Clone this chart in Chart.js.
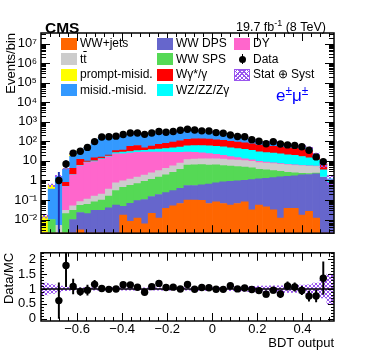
<!DOCTYPE html>
<html>
<head>
<meta charset="utf-8">
<script src="https://cdn.jsdelivr.net/npm/chart.js@4.4.1/dist/chart.umd.min.js"></script>
<style>
  html, body { margin: 0; padding: 0; background: #fff; }
  #wrap { position: relative; width: 374px; height: 359px; overflow: hidden;
          font-family: "Liberation Sans", Arial, sans-serif; color: #000; }
  #main { position: absolute; left: 0; top: 0; }
  #ratio { position: absolute; left: 0; top: 240px; }
  .t { position: absolute; white-space: nowrap; line-height: 1; }
  .sup { font-size: 0.7em; vertical-align: 0.5em; line-height: 0; }
  .leg { position: absolute; font-size: 12px; line-height: 12px; white-space: nowrap; }
  .sw { position: absolute; width: 16px; height: 12px; }
</style>
</head>
<body>
<div id="wrap">
  <canvas id="main" width="374" height="245"></canvas>
  <canvas id="ratio" width="374" height="119"></canvas>
  <div class="t" style="left:276px; top:87px; font-size:17px; color:#0000ff;">e<span class="sup">±</span>μ<span class="sup">±</span></div>
  <div id="legend"></div>
</div>
<script>
// BDT output binning (41 bins)
const xMin = -0.76, xMax = 0.54, nBins = 41;
const binWidth = (xMax - xMin) / nBins;
const binCenters = Array.from({ length: nBins }, (_, i) => xMin + (i + 0.5) * binWidth);

// tick labels
const xTickVals = [-0.6, -0.4, -0.2, 0, 0.2, 0.4];
const yTickVals = [1e-2, 1e-1, 1, 10, 1e2, 1e3, 1e4, 1e5, 1e6, 1e7];
const yTickText = ['10\u207B\u00B2', '10\u207B\u00B9', '1', '10', '10\u00B2', '10\u00B3', '10\u2074', '10\u2075', '10\u2076', '10\u2077'];
const ratioTickVals = [0, 0.5, 1, 1.5, 2];

// MC stack, bottom to top (events per bin)
const wwJets = [0,0,0,0,0,0.003,0,0,0,0, 0,0.017,0.008,0.012,0.006,0.021,0.012,0.037,0.05,0.066, 0.1,0.1,0.096,0.066,0.08,0.066,0.055,0.066,0.08,0.031, 0.055,0.045,0.031,0.012,0.037,0.037,0.017,0.026,0.012,0, 0];
const wwDps = [0,0,0,0,0.01,0.02,0.02,0.03,0.03,0.04, 0.055,0.03,0.06,0.08,0.1,0.13,0.18,0.2,0.25,0.33, 0.45,0.45,0.5,0.58,0.67,0.78,0.85,0.88,0.92,1.07, 1.15,1.25,1.37,1.5,1.6,1.7,1.9,2.0,2.2,1.45, 0.8];
const wwSps = [0,0.01,0,0.02,0.02,0.03,0.04,0.05,0.07,0.12, 0.25,0.4,0.5,0.6,0.8,1.0,1.3,1.7,2.3,3.3, 5.6,5.8,5.8,5.5,5.5,5.0,4.5,4.2,3.8,3.3, 2.5,2.2,1.8,1.4,1.0,0.7,0.4,0.25,0.15,0, 0];
const ttbar = [0,0,0.005,0.01,0.02,0.03,0.05,0.08,0.1,0.2, 0.45,0.5,0.6,0.8,1.0,1.3,1.7,2.2,3,4, 5.5,6,6.5,6.5,6.5,6.5,6,6,5.5,5, 4.5,4.2,4,3.8,3.6,3.4,3.2,3,2.8,0.05, 0];
const dy = [0,0,0,0.45,1.9,5.5,8,9,12,16, 22,22,24,26,26,26,25,24,22,20, 17,15,13,11,9,7,5,3.5,2.5,1.8, 1.2,1,0.8,0.6,0.5,0.4,0.3,0.25,0.2,0, 0];
const wzzz = [0,0,0,0.02,0.05,0.3,0.5,0.8,1,1.2, 4,5,5,6,7,9,12,15,19,24, 30,33,35,35,34,33,30,28,26,24, 20,18,17,16,14,13,11,9,6,2, 0.4];
const wgamma = [0,0,0,0.3,2.2,6,1.2,4.5,2.5,2.5, 7,8,25,28,12,20,30,35,45,55, 70,75,75,72,65,60,55,50,45,40, 35,30,30,28,25,25,22,18,8,3, 0];
const misidMisid = [0,0.35,1.6,2.9,12.8,20,39,66,143,149, 145,154,172,182,199,180,186,188,192,235, 200,207,160,163,134,125,70,67,66,37, 33,27,35,29,10,10,13,10,1,0.05, 0];
const promptMisid = [0.015,0.2,0.04,0.2,6,2.1,2.2,3.5,5,5, 6,7,8,9.5,10,10.5,13,15,18,28, 36,40,33,33,28,26,20,18,17,12, 10.6,8.3,9,7.7,4.3,3.8,4.2,3.5,0.6,0.05, 0];

// observed data
const dataCounts = [null,null,1,7,25,31,49,97,166,172, 185,225,268,268,228,268,320,295,320,370, 420,378,345,340,280,260,212,178,172,122, 102,76,95,73,66,62,53,35,16,9, null];
const dataErrLow = [null,null,0.002,4.3,null,null,null,null,null,null, null,null,null,null,null,null,null,null,null,null, null,null,null,null,null,null,null,null,null,null, null,null,null,null,null,null,null,null,null,null, null];
const dataErrHigh = [null,null,2.6,10.5,null,null,null,null,null,null, null,null,null,null,null,null,null,null,null,null, null,null,null,null,null,null,null,null,null,null, null,null,null,null,null,null,null,null,null,null, null];
const ratioErr = [null,null,0.6,0.72,0.25,0.13,0.17,0.14,0.08,0.07, 0.07,0.07,0.07,0.07,0.07,0.07,0.08,0.07,0.07,0.06, 0.06,0.06,0.06,0.06,0.07,0.07,0.08,0.08,0.08,0.09, 0.1,0.1,0.1,0.12,0.14,0.14,0.14,0.17,0.2,0.55, null];
// relative stat+syst uncertainty on the MC
const bandRel = [0.2,0.15,0.1,0.06,0.04,0.04,0.04,0.04,0.04,0.04, 0.04,0.04,0.04,0.04,0.04,0.04,0.04,0.04,0.04,0.04, 0.04,0.05,0.05,0.05,0.05,0.05,0.06,0.07,0.08,0.09, 0.1,0.1,0.11,0.11,0.12,0.12,0.13,0.14,0.2,0.3, 0.5];

const samples = [
  { name: 'WW+jets', html: 'WW+jets', color: '#ff6600', values: wwJets },
  { name: 'WW DPS', html: 'WW DPS', color: '#6666cc', values: wwDps },
  { name: 'WW SPS', html: 'WW SPS', color: '#55d955', values: wwSps },
  { name: 'ttbar', html: 't<span style="text-decoration:overline">t</span>', color: '#cccccc', values: ttbar },
  { name: 'DY', html: 'DY', color: '#ff66cc', values: dy },
  { name: 'WZ/ZZ/Zγ', html: 'WZ/ZZ/Zγ', color: '#00ffff', values: wzzz },
  { name: 'Wγ*/γ', html: 'Wγ*/γ', color: '#ff0000', values: wgamma },
  { name: 'misid.-misid.', html: 'misid.-misid.', color: '#3399ff', values: misidMisid },
  { name: 'prompt-misid.', html: 'prompt-misid.', color: '#ffff00', values: promptMisid }
];
const hatchColor = '#9955ee';
const fontFam = '"Liberation Sans", Arial, sans-serif';

const mcTotal = binCenters.map((_, i) => samples.reduce((s, d) => s + d.values[i], 0));
const ratio = dataCounts.map((d, i) => d == null ? null : d / mcTotal[i]);

const pts = vals => binCenters.map((x, i) => ({ x, y: vals[i] }));

Chart.defaults.font.family = fontFam;
Chart.defaults.color = '#000';

function hatchPattern(ctx, color) {
  const tile = document.createElement('canvas');
  tile.width = 4; tile.height = 4;
  const t = tile.getContext('2d');
  t.fillStyle = color;
  for (let i = 0; i < 4; i++) {
    t.fillRect(i, i, 1, 1);
    t.fillRect(3 - i, i, 1, 1);
  }
  return ctx.createPattern(tile, 'repeat');
}

// ROOT-like frame with inward ticks on all four sides
function rootFrame(xTicks, yTicks, xLen, yLen) {
  return {
    id: 'rootFrame',
    afterDatasetsDraw(chart) {
      const { ctx, chartArea: a } = chart;
      const xs = chart.scales.x, ys = chart.scales.y;
      ctx.save();
      ctx.strokeStyle = '#000';
      ctx.lineWidth = 1;
      ctx.beginPath();
      xTicks.forEach(([v, major]) => {
        const p = Math.round(xs.getPixelForValue(v)) + 0.5;
        const len = major ? xLen[0] : xLen[1];
        ctx.moveTo(p, a.bottom); ctx.lineTo(p, a.bottom - len);
        ctx.moveTo(p, a.top); ctx.lineTo(p, a.top + len);
      });
      yTicks.forEach(([v, major]) => {
        const p = Math.round(ys.getPixelForValue(v)) + 0.5;
        const len = major ? yLen[0] : yLen[1];
        ctx.moveTo(a.left, p); ctx.lineTo(a.left + len, p);
        ctx.moveTo(a.right, p); ctx.lineTo(a.right - len, p);
      });
      ctx.stroke();
      ctx.lineWidth = 1.5;
      ctx.strokeRect(a.left, a.top, a.right - a.left, a.bottom - a.top);
      ctx.restore();
    }
  };
}

// "CMS" and luminosity text above the frame
const headerText = {
  id: 'headerText',
  afterDraw(chart) {
    const { ctx, chartArea: a } = chart;
    ctx.save();
    ctx.fillStyle = '#000';
    ctx.textBaseline = 'alphabetic';
    ctx.textAlign = 'left';
    ctx.font = 'bold 15.5px ' + fontFam;
    ctx.fillText('CMS', a.left + 4, a.top - 0.5);
    const mainF = '12.5px ' + fontFam, supF = '9px ' + fontFam;
    const p1 = '19.7 fb', p2 = '-1', p3 = ' (8 TeV)';
    ctx.font = mainF; const w1 = ctx.measureText(p1).width, w3 = ctx.measureText(p3).width;
    ctx.font = supF; const w2 = ctx.measureText(p2).width;
    let x = a.right - 8 - (w1 + w2 + w3);
    const base = a.top - 2.5;
    ctx.font = mainF; ctx.fillText(p1, x, base); x += w1;
    ctx.font = supF; ctx.fillText(p2, x, base - 5); x += w2;
    ctx.font = mainF; ctx.fillText(p3, x, base);
    ctx.restore();
  }
};

const xFrameTicks = [];
for (let i = -20; i <= 15; i++) {
  const v = i * 0.04;
  if (v > xMin && v < xMax) xFrameTicks.push([v, i % 5 === 0]);
}
const yMin = 0.002, yMax = 3.5e7;
const logFrameTicks = [];
for (let e = -3; e <= 7; e++) {
  for (let d = 1; d <= 9; d++) {
    const v = d * Math.pow(10, e);
    if (v > yMin && v < yMax) logFrameTicks.push([v, d === 1]);
  }
}
const rMin = -0.08, rMax = 2.22;
const ratioFrameTicks = [];
for (let i = 0; i <= 22; i++) ratioFrameTicks.push([i / 10, i % 5 === 0]);

const tickFont = { size: 13 };
const mainCanvas = document.getElementById('main');
const ratioCanvas = document.getElementById('ratio');

// main panel
new Chart(mainCanvas, {
  type: 'bar',
  data: {
    datasets: [
      { type: 'line', label: 'Data', data: pts(dataCounts), showLine: false, pointRadius: 3.7,
        pointBackgroundColor: '#000', pointBorderWidth: 0, stack: 'data', order: 0 },
      { label: 'data err', data: binCenters.map((x, i) => ({ x, y: dataErrLow[i] == null ? null : [dataErrLow[i], dataErrHigh[i]] })),
        backgroundColor: '#2030b0', maxBarThickness: 1.3, stack: 'err', order: 1 },
      { label: 'Stat ⊕ Syst', data: binCenters.map((x, i) => ({ x, y: mcTotal[i] > 0 ? [mcTotal[i] * (1 - bandRel[i]), mcTotal[i] * (1 + bandRel[i])] : null })),
        backgroundColor: hatchPattern(mainCanvas.getContext('2d'), hatchColor), stack: 'unc', order: 2 },
      ...samples.map(s => ({ label: s.name, data: pts(s.values), backgroundColor: s.color, stack: 'mc', order: 3 }))
    ]
  },
  options: {
    responsive: false, animation: false, events: [],
    layout: { padding: { top: 33, right: 40, bottom: 4, left: 0 } },
    datasets: { bar: { grouped: false, barPercentage: 1, categoryPercentage: 1 } },
    plugins: { legend: { display: false }, tooltip: { enabled: false } },
    scales: {
      x: { type: 'linear', min: xMin, max: xMax, offset: false, display: false },
      y: {
        type: 'logarithmic', min: yMin, max: yMax, stacked: true,
        grid: { display: false, drawTicks: false }, border: { display: false },
        afterFit: s => { s.width = 41; },
        afterBuildTicks: s => { s.ticks = yTickVals.map(value => ({ value })); },
        ticks: { padding: 4, font: tickFont, autoSkip: false,
                 callback: v => yTickText[yTickVals.indexOf(v)] ?? '' },
        title: { display: true, text: 'Events/bin', align: 'end', font: { size: 13 }, padding: { top: 4, bottom: 0 } }
      }
    }
  },
  plugins: [rootFrame(xFrameTicks, logFrameTicks, [8, 4], [9, 5]), headerText]
});

// ratio panel
new Chart(ratioCanvas, {
  type: 'bar',
  data: {
    datasets: [
      { type: 'line', label: 'Data/MC', data: pts(ratio), showLine: false, pointRadius: 3.7,
        pointBackgroundColor: '#000', pointBorderWidth: 0, order: 0 },
      { label: 'ratio err', data: binCenters.map((x, i) => ({ x, y: ratio[i] == null ? null : [ratio[i] - ratioErr[i], ratio[i] + ratioErr[i]] })),
        backgroundColor: '#000', maxBarThickness: 1.3, order: 1 },
      { type: 'line', label: 'unity', data: [{ x: xMin, y: 1 }, { x: xMax, y: 1 }],
        borderColor: '#000', borderWidth: 1.5, pointRadius: 0, order: 2 },
      { label: 'band', data: binCenters.map((x, i) => ({ x, y: [1 - bandRel[i], 1 + bandRel[i]] })),
        backgroundColor: hatchPattern(ratioCanvas.getContext('2d'), hatchColor), order: 3 }
    ]
  },
  options: {
    responsive: false, animation: false, events: [],
    layout: { padding: { top: 5, right: 40, bottom: 0, left: 0 } },
    datasets: { bar: { grouped: false, barPercentage: 1, categoryPercentage: 1 } },
    plugins: { legend: { display: false }, tooltip: { enabled: false } },
    scales: {
      x: {
        type: 'linear', min: xMin, max: xMax, offset: false,
        grid: { display: false, drawTicks: false }, border: { display: false },
        afterFit: s => { s.height = 38; },
        afterBuildTicks: s => { s.ticks = xTickVals.map(value => ({ value })); },
        ticks: { padding: 1, font: tickFont, autoSkip: false, maxRotation: 0,
                 callback: v => (v < 0 ? '\u2212' : '') + Math.abs(v) },
        title: { display: true, text: 'BDT output', align: 'end', font: { size: 13 }, padding: { top: 0, bottom: 8 } }
      },
      y: {
        min: rMin, max: rMax,
        grid: { display: false, drawTicks: false }, border: { display: false },
        afterFit: s => { s.width = 41; },
        afterBuildTicks: s => { s.ticks = ratioTickVals.map(value => ({ value })); },
        ticks: { padding: 5, font: tickFont, autoSkip: false, callback: v => String(v) },
        title: { display: true, text: 'Data/MC', align: 'end', font: { size: 13 }, padding: { top: 2, bottom: 0 } }
      }
    }
  },
  plugins: [rootFrame(xFrameTicks, ratioFrameTicks, [8, 4], [6, 3])]
});

// legend (three columns, ROOT style)
const legendCols = [
  ['WW+jets', 'ttbar', 'prompt-misid.', 'misid.-misid.'],
  ['WW DPS', 'WW SPS', 'Wγ*/γ', 'WZ/ZZ/Zγ'],
  ['DY', 'Data', 'Stat ⊕ Syst']
];
const colX = [61, 157, 234];
const rowY = [43.5, 59, 74.5, 90];
const leg = document.getElementById('legend');
legendCols.forEach((col, c) => {
  col.forEach((name, r) => {
    const cy = rowY[r];
    let icon;
    if (name === 'Data') {
      icon = `<div style="position:absolute; left:${colX[c] + 7.5}px; top:${cy - 5}px; width:1px; height:10px; background:#000"></div>` +
             `<div style="position:absolute; left:${colX[c] + 4.5}px; top:${cy - 3.5}px; width:7px; height:7px; border-radius:50%; background:#000"></div>`;
    } else if (name === 'Stat ⊕ Syst') {
      icon = `<div class="sw" style="left:${colX[c]}px; top:${cy - 6}px; box-sizing:border-box; border:1px solid ${hatchColor};
              background: repeating-linear-gradient(45deg, ${hatchColor} 0 1px, transparent 1px 3px), repeating-linear-gradient(-45deg, ${hatchColor} 0 1px, transparent 1px 3px);"></div>`;
    } else {
      const s = samples.find(d => d.name === name);
      icon = `<div class="sw" style="left:${colX[c]}px; top:${cy - 6}px; background:${s.color}"></div>`;
    }
    const s = samples.find(d => d.name === name);
    const text = s ? s.html : name;
    leg.insertAdjacentHTML('beforeend', icon +
      `<div class="leg" style="left:${colX[c] + 19}px; top:${cy - 6.5}px">${text}</div>`);
  });
});
</script>
</body>
</html>
